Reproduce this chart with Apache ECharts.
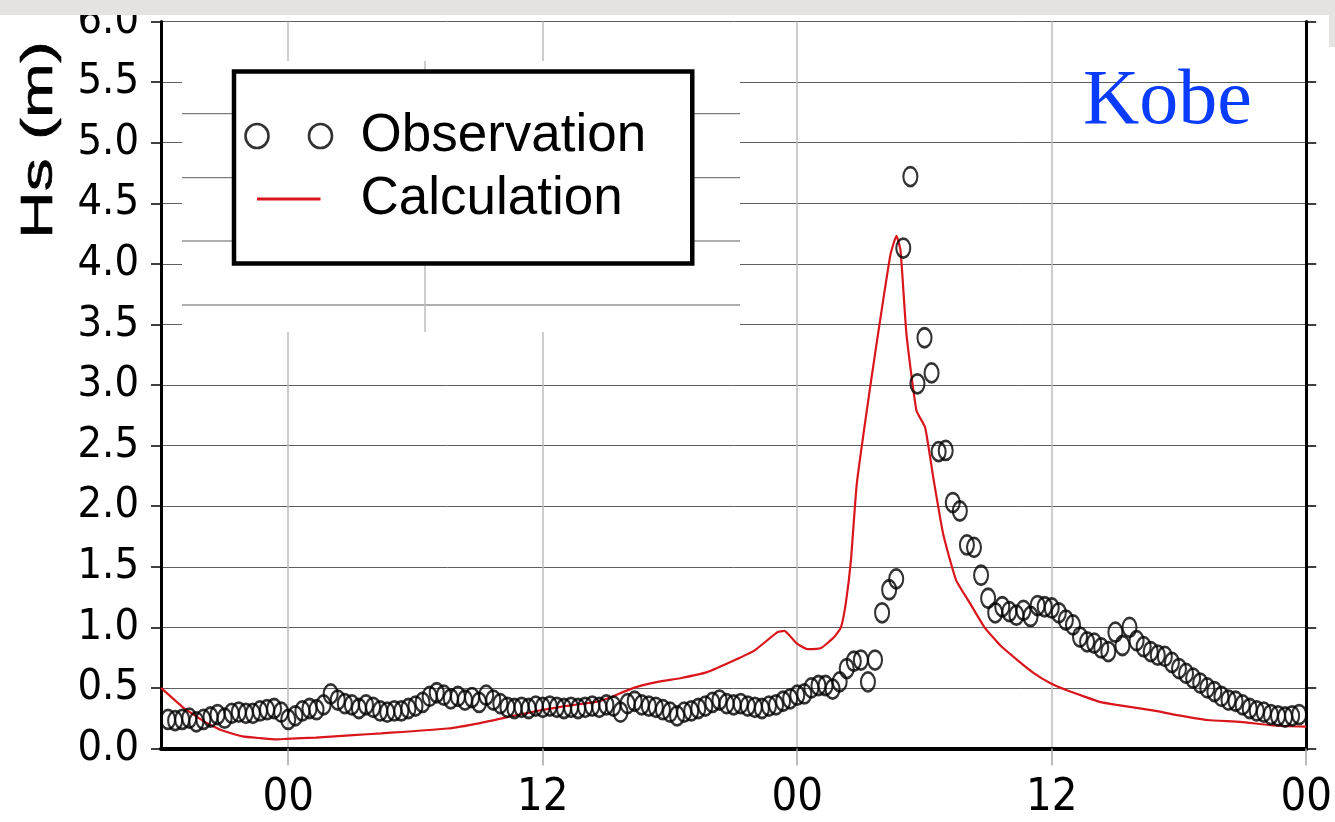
<!DOCTYPE html>
<html><head><meta charset="utf-8">
<script src="https://cdn.jsdelivr.net/npm/echarts@6/dist/echarts.min.js"></script>
<style>html,body{margin:0;padding:0;background:#fff}#c{width:1335px;height:822px}</style>
</head><body><div id="c"></div>
<script>
// ---- data ----
const xTickValues = [0, 12, 24, 36, 48];
const xTickLabels = ['00', '12', '00', '12', '00'];
const obsStartHour = -17 / 3;   // first observation time (hours)
const obsStepHour = 1 / 3;      // 20-minute sampling
const obsValues = [
  0.24,0.23,0.24,0.25,0.22,0.24,0.26,0.28,0.25,0.29,
  0.30,0.29,0.29,0.31,0.32,0.33,0.30,0.24,0.27,0.31,
  0.33,0.32,0.36,0.45,0.40,0.37,0.36,0.33,0.36,0.34,
  0.31,0.30,0.31,0.31,0.33,0.35,0.38,0.43,0.46,0.44,
  0.41,0.43,0.40,0.42,0.38,0.44,0.40,0.37,0.34,0.33,
  0.34,0.33,0.35,0.34,0.35,0.34,0.33,0.34,0.33,0.34,
  0.35,0.34,0.36,0.35,0.30,0.37,0.39,0.36,0.35,0.34,
  0.32,0.30,0.27,0.30,0.31,0.33,0.35,0.38,0.40,0.37,
  0.36,0.37,0.35,0.34,0.33,0.35,0.36,0.39,0.41,0.44,
  0.45,0.50,0.52,0.52,0.49,0.55,0.66,0.72,0.73,0.55,
  0.73,1.12,1.31,1.40,4.13,4.72,3.01,3.39,3.10,2.45,
  2.46,2.03,1.96,1.68,1.66,1.43,1.24,1.12,1.17,1.13,
  1.10,1.14,1.09,1.18,1.17,1.16,1.12,1.06,1.02,0.92,
  0.88,0.87,0.83,0.80,0.96,0.85,1.00,0.89,0.84,0.80,
  0.77,0.76,0.71,0.66,0.62,0.58,0.54,0.50,0.47,0.43,
  0.40,0.39,0.36,0.33,0.31,0.30,0.28,0.27,0.26,0.27,0.28
];
const calcHours = [
  -6,-4.97,-4.73,-3.94,-3.38,-3.14,-2.16,-1.28,-0.57,-0.06,
  1.3,3.07,4.38,7.51,9.05,10.64,12.04,13.49,14.52,15.08,
  16.29,17.42,18.49,19.75,21.06,21.99,23.07,23.39,23.96,24.47,
  25.13,25.74,26.06,26.29,26.53,26.81,27.46,27.93,28.40,28.68,
  28.87,29.15,29.62,30.03,30.41,30.88,31.49,32.14,32.83,33.58,
  34.38,35.17,35.92,36.71,37.51,38.26,39.06,39.84,40.9,41.76,
  43.35,44.89,46.43,48
];
const calcValues = [
  0.50,0.34,0.31,0.22,0.17,0.15,0.10,0.085,0.075,0.08,
  0.09,0.11,0.125,0.165,0.21,0.27,0.32,0.36,0.385,0.415,
  0.50,0.55,0.58,0.63,0.73,0.81,0.96,0.97,0.87,0.82,
  0.83,0.92,1.00,1.20,1.55,2.19,3.01,3.56,4.08,4.23,
  4.11,3.42,2.79,2.65,2.24,1.77,1.39,1.20,1.00,0.85,
  0.73,0.62,0.54,0.48,0.43,0.385,0.36,0.34,0.31,0.28,
  0.235,0.22,0.19,0.18
];

// ---- chart ----
const NARROW = "'Liberation Sans Narrow','DejaVu Sans Condensed',sans-serif";
const RED = '#d9161c';
const obsData = obsValues.map((v, i) => [obsStartHour + i * obsStepHour, v]);
const calcData = calcHours.map((h, i) => [h, calcValues[i]]);

const obsIcon = 'path://M0,12a11.5,12 0 1,0 23,0a11.5,12 0 1,0 -23,0M63.5,12a11.5,12 0 1,0 23,0a11.5,12 0 1,0 -23,0M110,24';
const calcIcon = 'path://M0,0M110,24M11.5,12L75,12';

const chart = echarts.init(document.getElementById('c'), null, {renderer: 'canvas'});
chart.setOption({
  animation: false,
  backgroundColor: '#fff',
  grid: {left: 161, right: 18.5, top: 19.5, bottom: 73.5, containLabel: false},
  xAxis: {
    type: 'value', min: -6, max: 48,
    axisLine: {show: true, onZero: false, lineStyle: {color: '#000', width: 4}},
    axisTick: {show: true, customValues: xTickValues, length: 17, lineStyle: {color: '#a8a8a8', width: 1.5}},
    axisLabel: {customValues: xTickValues, formatter: v => xTickLabels[xTickValues.indexOf(v)],
      fontSize: 45, fontFamily: NARROW, color: '#000', margin: 27},
    splitLine: {show: true, lineStyle: {color: '#bdbdbd', width: 1.5}}
  },
  yAxis: [{
    type: 'value', min: 0, max: 6, interval: 0.5, position: 'left',
    axisLine: {show: true, onZero: false, lineStyle: {color: '#000', width: 3}},
    axisTick: {show: true, length: 10, lineStyle: {color: '#000', width: 1.5}},
    axisLabel: {formatter: v => v.toFixed(1), fontSize: 43, fontFamily: NARROW, color: '#000', margin: 22},
    splitLine: {show: true, lineStyle: {color: '#5e5e5e', width: 1}}
  }, {
    type: 'value', min: 0, max: 6, interval: 0.5, position: 'right',
    axisLine: {show: true, onZero: false, lineStyle: {color: '#000', width: 3}},
    axisTick: {show: true, length: 10, lineStyle: {color: '#000', width: 1.5}},
    axisLabel: {show: false},
    splitLine: {show: false}
  }],
  legend: {
    z: 10, left: 234, top: 71.5, orient: 'vertical', selectedMode: false,
    backgroundColor: '#fff', borderColor: '#000', borderWidth: 4.5,
    padding: [38, 46, 38, 10], itemGap: 10, itemWidth: 110, itemHeight: 24,
    textStyle: {fontSize: 53, fontFamily: "'Liberation Sans',Arial,sans-serif", color: '#000'},
    data: [
      {name: 'Observation', icon: obsIcon, itemStyle: {color: 'rgba(0,0,0,0)', borderColor: '#000', borderWidth: 2.6}},
      {name: 'Calculation', icon: calcIcon, itemStyle: {color: 'rgba(0,0,0,0)', borderColor: RED, borderWidth: 3}}
    ]
  },
  graphic: [
    // pasted legend patch with its own faint grid
    {type: 'rect', z: 3, shape: {x: 182, y: 61, width: 558, height: 271}, style: {fill: '#fff'}},
    {type: 'line', z: 4, shape: {x1: 182, y1: 113.7, x2: 740, y2: 113.7}, style: {stroke: '#5e5e5e', lineWidth: 1}},
    {type: 'line', z: 4, shape: {x1: 182, y1: 177.7, x2: 740, y2: 177.7}, style: {stroke: '#5e5e5e', lineWidth: 1}},
    {type: 'line', z: 4, shape: {x1: 182, y1: 241, x2: 740, y2: 241}, style: {stroke: '#5e5e5e', lineWidth: 1}},
    {type: 'line', z: 4, shape: {x1: 182, y1: 305, x2: 740, y2: 305}, style: {stroke: '#5e5e5e', lineWidth: 1}},
    {type: 'line', z: 4, shape: {x1: 425, y1: 61, x2: 425, y2: 332}, style: {stroke: '#bdbdbd', lineWidth: 1.5}},
    // top gray band & right strip
    {type: 'rect', z: 20, shape: {x: 0, y: 0, width: 1335, height: 15}, style: {fill: '#e5e3df'}},
    {type: 'rect', z: 20, shape: {x: 1329, y: 15, width: 6, height: 32}, style: {fill: '#e5e3df'}},
    // axis title
    {type: 'text', z: 5, x: 40, y: 140, rotation: Math.PI / 2, scaleX: 1.5,
      style: {text: 'Hs (m)', font: "44px 'Liberation Sans'", fill: '#000', align: 'center', verticalAlign: 'middle',
        stroke: '#000', lineWidth: 0.6}},
    // station label
    {type: 'text', z: 5, x: 1083, y: 103,
      style: {text: 'Kobe', font: "78px 'Liberation Serif'", fill: '#0a3cff', align: 'left', verticalAlign: 'middle'}}
  ],
  series: [
    {name: 'Calculation', type: 'line', data: calcData, symbol: 'none', showSymbol: false, smooth: 0.15,
      lineStyle: {color: RED, width: 2.2}, itemStyle: {color: RED}, z: 2},
    {name: 'Observation', type: 'scatter', data: obsData, symbol: 'circle', symbolSize: [14, 19],
      itemStyle: {color: 'rgba(0,0,0,0)', borderColor: '#000', borderWidth: 2.4}, z: 3}
  ]
});
</script>
</body></html>
